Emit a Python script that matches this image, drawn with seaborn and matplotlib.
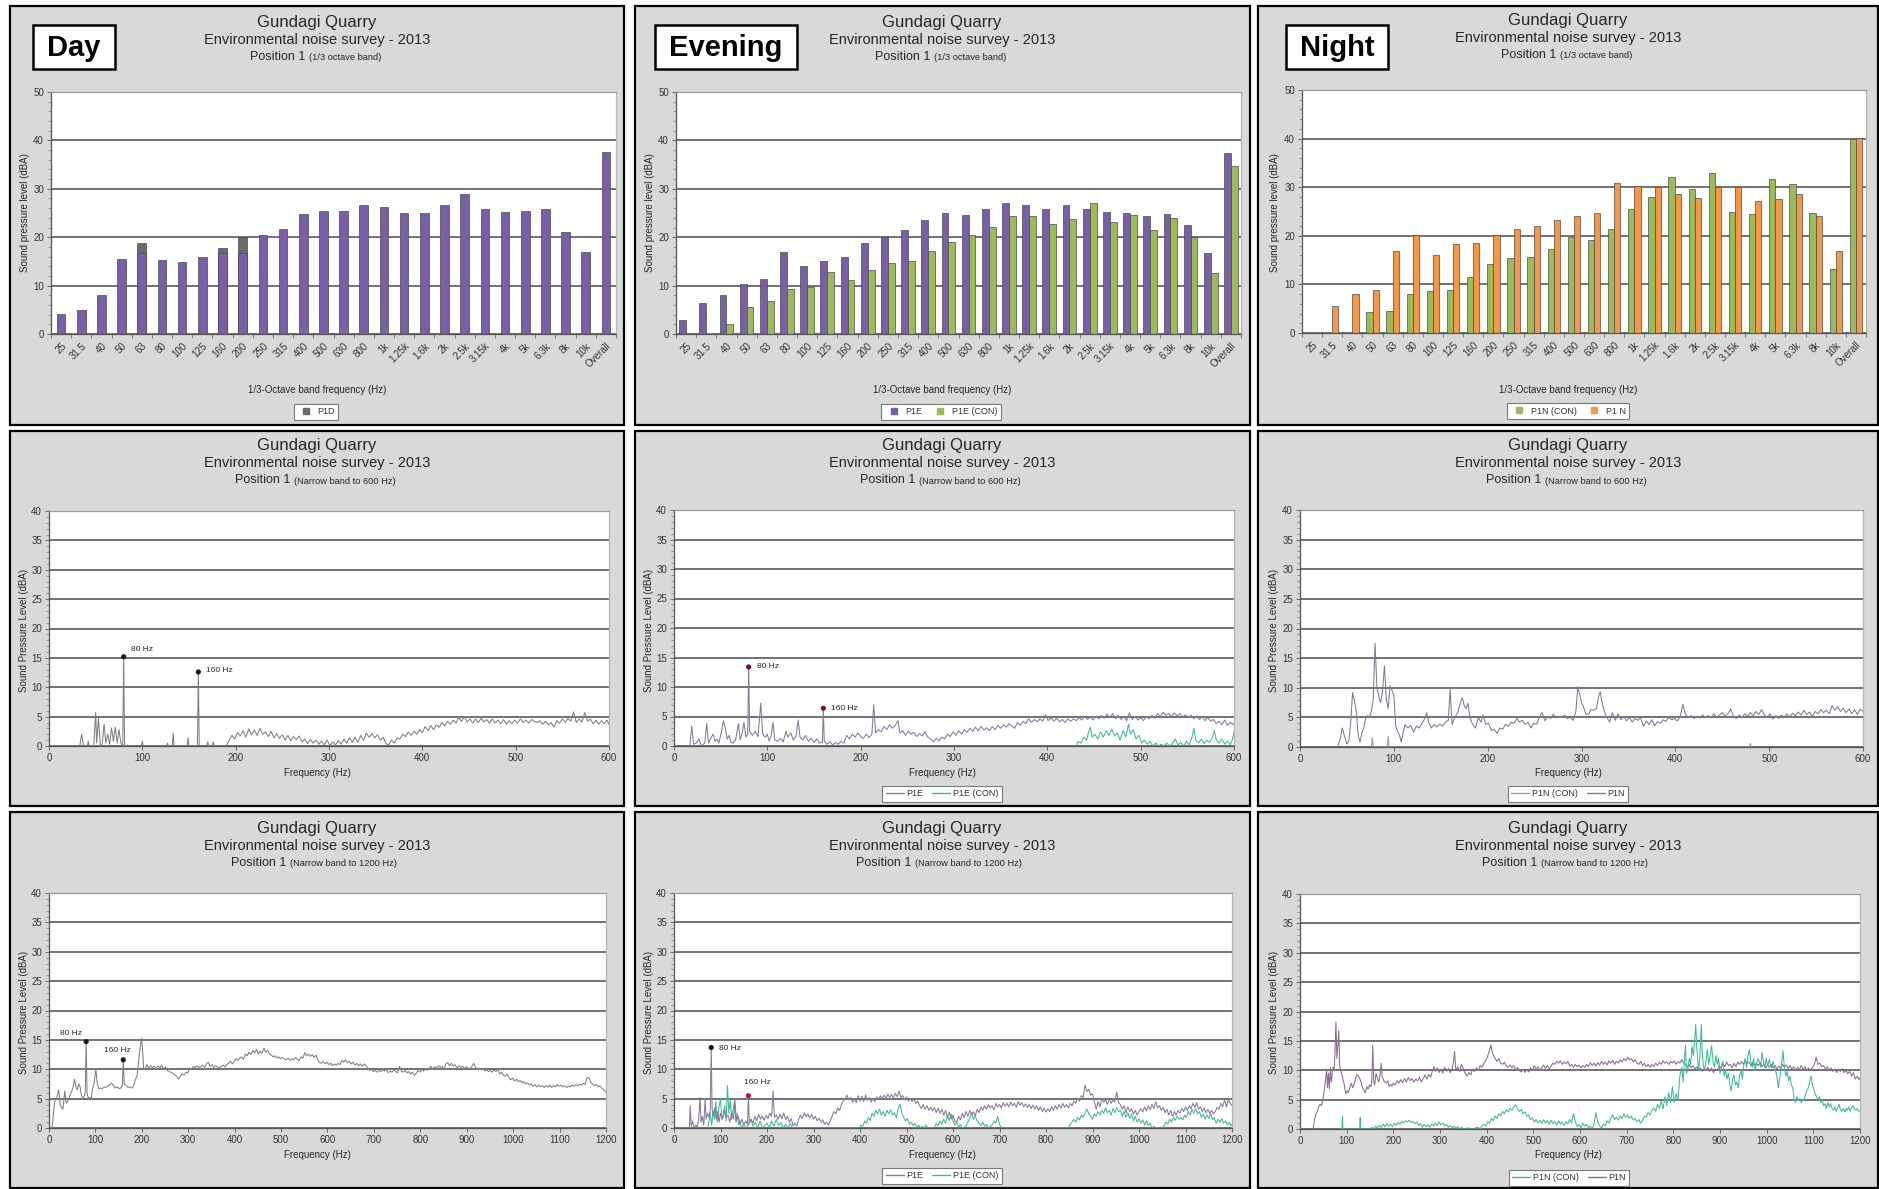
import numpy as np
import pandas as pd
import matplotlib
matplotlib.use("Agg")
import matplotlib.pyplot as plt
import seaborn as sns
from matplotlib.patches import Rectangle
from matplotlib.lines import Line2D
from matplotlib.ticker import MultipleLocator, FixedLocator

sns.set_theme(style="white")
plt.rcParams["font.family"] = ["Liberation Sans", "DejaVu Sans"]

# ---------------------------------------------------------------- data
BANDS = ["25", "31.5", "40", "50", "63", "80", "100", "125", "160", "200", "250",
         "315", "400", "500", "630", "800", "1k", "1.25k", "1.6k", "2k", "2.5k",
         "3.15k", "4k", "5k", "6.3k", "8k", "10k", "Overall"]

NA = np.nan
P1D = [4.2, 5.0, 8.0, 15.5, 16.8, 15.3, 14.8, 16.0, 16.8, 16.8, 20.4, 21.7, 24.7, 25.5,
       25.4, 26.6, 26.2, 25.0, 25.0, 26.6, 28.9, 25.8, 25.2, 25.4, 25.8, 21.0, 17.0, 37.7]
P1D_TOP = [NA, NA, NA, NA, 18.8, NA, NA, NA, 17.7, 20.0, NA, NA, NA, NA,
           NA, NA, NA, NA, NA, NA, NA, NA, NA, NA, NA, NA, NA, NA]

P1E = [2.8, 6.4, 8.0, 10.4, 11.3, 16.9, 14.1, 15.1, 16.0, 18.7, 20.0, 21.4, 23.6, 25.0,
       24.6, 25.8, 27.0, 26.6, 25.8, 26.6, 25.8, 25.3, 24.9, 24.4, 24.7, 22.5, 16.8, 37.4]
P1E_CON = [NA, NA, 2.0, 5.6, 6.8, 9.3, 9.7, 12.8, 11.1, 13.3, 14.7, 15.1, 17.2, 19.1,
           20.4, 22.1, 24.3, 24.3, 22.8, 23.8, 27.1, 23.1, 24.6, 21.5, 23.9, 20.0, 12.7, 34.8]

P1N_CON = [NA, NA, NA, 4.3, 4.6, 8.0, 8.6, 8.8, 11.5, 14.1, 15.5, 15.6, 17.2, 19.7,
           19.2, 21.5, 25.5, 27.9, 32.1, 29.7, 32.9, 24.9, 24.5, 31.6, 30.6, 24.7, 13.2, 39.9]
P1N = [NA, 5.5, 8.0, 8.9, 16.8, 20.1, 16.1, 18.4, 18.6, 20.1, 21.5, 22.1, 23.3, 24.1,
       24.7, 30.8, 30.3, 30.0, 28.7, 27.7, 30.0, 30.1, 27.1, 27.5, 28.7, 24.0, 16.8, 40.1]

# narrow band spectra, (frequency Hz, level dBA)
DAY_NB600 = [(0, 0), (33, 0), (35, 2.0), (37, 0), (41, 0), (42, 0.8), (43, 0), (48, 0), (50, 5.7),
    (51, 0.5), (53, 4.7), (55, 0), (57, 0.3), (59, 3.7), (61, 0.5), (63, 2.0), (65, 0.3), (67, 3.1),
    (69, 0.8), (71, 3.2), (73, 0.5), (75, 2.8), (77, 0.5), (79, 0), (80, 15.2), (81, 0), (99, 0),
    (100, 0.8), (101, 0), (126, 0), (127, 0.5), (128, 0), (132, 0), (133, 2.2), (134, 0), (148, 0),
    (149, 1.4), (150, 0), (159, 0), (160, 12.6), (161, 0), (169, 0), (170, 0.7), (171, 0), (175, 0),
    (176, 0.7), (177, 0), (190, 0), (193, 1.0), (196, 1.8), (199, 1.2), (202, 2.3), (205, 1.7),
    (208, 2.6), (211, 1.5), (214, 2.9), (217, 1.9), (220, 2.7), (223, 1.8), (226, 3.0), (229, 2.0),
    (232, 2.4), (235, 1.6), (238, 2.5), (241, 1.4), (244, 2.1), (247, 1.3), (250, 1.9), (253, 1.0),
    (256, 1.8), (259, 0.9), (262, 1.6), (265, 1.1), (268, 1.7), (271, 0.7), (274, 1.2), (277, 0.4),
    (280, 1.1), (283, 0.5), (286, 1.0), (289, 0.3), (292, 0.8), (295, 0.2), (298, 1.0), (301, 0.1),
    (304, 0.7), (307, 0.2), (310, 0.9), (313, 0.3), (316, 1.2), (319, 0.5), (322, 1.4), (325, 0.6),
    (328, 1.5), (331, 0.6), (334, 1.8), (337, 1.0), (340, 2.2), (343, 1.5), (346, 2.1), (349, 1.4),
    (352, 1.9), (355, 1.0), (358, 1.5), (361, 0.4), (364, 0.2), (367, 1.0), (370, 0.5), (373, 1.4),
    (376, 1.2), (379, 2.0), (382, 1.6), (385, 2.4), (388, 1.8), (391, 2.5), (394, 2.0), (397, 2.8),
    (400, 2.3), (403, 3.3), (406, 2.6), (409, 3.5), (412, 2.8), (415, 3.6), (418, 3.2), (421, 4.0),
    (424, 3.4), (427, 4.2), (430, 3.7), (433, 4.4), (436, 3.9), (439, 4.8), (442, 4.2), (445, 5.0),
    (448, 4.1), (451, 4.6), (454, 3.9), (457, 4.6), (460, 4.0), (463, 4.7), (466, 4.1), (469, 4.5),
    (472, 3.9), (475, 4.6), (478, 3.9), (481, 4.4), (484, 3.8), (487, 4.5), (490, 3.7), (493, 4.3),
    (496, 3.8), (499, 4.4), (502, 3.9), (505, 4.6), (508, 4.0), (511, 4.4), (514, 3.9), (517, 4.5),
    (520, 4.2), (523, 4.0), (526, 4.3), (529, 3.7), (532, 4.2), (535, 3.6), (538, 4.0), (541, 3.2),
    (544, 4.3), (547, 3.9), (550, 4.6), (553, 4.0), (556, 4.7), (559, 4.2), (562, 5.8), (565, 4.0),
    (568, 4.6), (571, 4.1), (574, 5.7), (577, 4.2), (580, 4.6), (583, 3.8), (586, 4.4), (589, 3.7),
    (592, 4.3), (595, 3.8), (598, 4.4), (600, 3.6)]

EVE_NB600 = [(14, 0), (17, 0), (19, 3.4), (21, 0.3), (24, 0.5), (27, 1.2), (29, 0), (33, 0.5),
    (35, 3.8), (37, 0.5), (40, 1.5), (42, 2.0), (44, 0.8), (46, 1.2), (48, 0.5), (51, 2.5), (53, 4.3),
    (55, 3.0), (57, 1.2), (59, 1.8), (61, 0.6), (63, 0.5), (66, 1.0), (69, 3.8), (71, 1.0), (73, 2.2),
    (75, 4.0), (77, 1.5), (79, 2.0), (80, 13.4), (81, 2.5), (84, 1.8), (87, 2.5), (90, 1.6), (93, 7.3),
    (95, 2.0), (98, 1.5), (100, 2.0), (102, 0.8), (104, 1.7), (106, 4.0), (108, 1.0), (111, 0.8),
    (114, 1.3), (117, 0.7), (120, 2.5), (122, 1.5), (125, 2.2), (128, 1.0), (131, 1.8), (133, 4.4),
    (135, 1.5), (138, 1.0), (141, 1.8), (144, 0.8), (147, 1.3), (150, 0.6), (153, 1.2), (156, 0.5),
    (159, 0.6), (160, 6.4), (161, 0.8), (164, 0.3), (167, 0.7), (170, 0.2), (173, 0.6), (176, 0.3),
    (179, 0.8), (182, 0.5), (185, 1.8), (188, 1.2), (191, 2.0), (194, 1.5), (197, 2.2), (200, 1.6),
    (203, 1.3), (206, 2.0), (209, 1.4), (212, 2.0), (214, 7.0), (216, 2.2), (219, 2.8), (222, 2.4),
    (225, 3.3), (228, 2.8), (231, 3.6), (234, 3.0), (237, 3.5), (240, 4.3), (242, 2.2), (245, 2.6),
    (248, 1.8), (251, 2.5), (254, 2.0), (257, 2.3), (260, 1.6), (263, 2.1), (266, 1.7), (269, 2.4),
    (272, 1.5), (275, 1.2), (278, 0.7), (281, 1.3), (284, 0.9), (287, 1.5), (290, 1.2), (293, 2.0),
    (296, 1.6), (299, 2.4), (302, 1.8), (305, 2.6), (308, 2.0), (311, 2.8), (314, 2.3), (317, 3.0),
    (320, 2.5), (323, 3.2), (326, 2.6), (329, 3.3), (332, 2.7), (335, 3.1), (338, 2.6), (341, 3.3),
    (344, 2.8), (347, 3.5), (350, 3.0), (353, 3.6), (356, 3.2), (359, 3.8), (362, 3.4), (365, 3.0),
    (368, 4.0), (371, 3.5), (374, 4.2), (377, 3.8), (380, 4.6), (383, 4.0), (386, 4.5), (389, 4.1),
    (392, 4.6), (395, 4.2), (398, 5.3), (401, 4.3), (404, 4.8), (407, 4.2), (410, 4.7), (413, 4.1),
    (416, 4.5), (419, 4.0), (422, 4.6), (425, 4.2), (428, 4.6), (431, 4.3), (434, 4.8), (437, 4.4),
    (440, 5.0), (443, 4.5), (446, 4.9), (449, 4.4), (452, 5.0), (455, 4.6), (458, 5.2), (461, 4.7),
    (464, 5.4), (467, 4.8), (470, 5.5), (473, 4.6), (476, 5.2), (479, 4.5), (482, 5.0), (485, 4.3),
    (488, 5.6), (491, 4.5), (494, 5.0), (497, 4.4), (500, 4.8), (503, 4.3), (506, 5.0), (509, 4.6),
    (512, 5.2), (515, 4.7), (518, 5.5), (521, 5.0), (524, 5.7), (527, 5.2), (530, 5.5), (533, 5.0),
    (536, 5.6), (539, 5.1), (542, 5.5), (545, 4.9), (548, 5.3), (551, 4.8), (554, 5.2), (557, 4.6),
    (560, 5.1), (563, 4.5), (566, 5.0), (569, 4.3), (572, 4.8), (575, 4.2), (578, 4.5), (581, 3.8),
    (584, 4.2), (587, 3.6), (590, 4.4), (593, 3.5), (596, 4.0), (599, 3.6), (600, 3.9)]

EVE_CON_NB600 = [(431, 0), (433, 0.8), (436, 0.5), (439, 1.5), (442, 1.0), (444, 2.2), (446, 3.2),
    (448, 1.5), (451, 2.0), (454, 1.2), (457, 2.4), (460, 1.5), (463, 2.6), (466, 1.8), (469, 2.9),
    (472, 1.7), (475, 2.2), (478, 1.0), (481, 2.6), (484, 1.5), (487, 3.7), (489, 2.0), (492, 2.8),
    (495, 1.2), (498, 1.8), (501, 0.5), (504, 1.0), (507, 0.3), (510, 0.8), (513, 0.0), (516, 0.5),
    (519, 0.0), (522, 0.3), (525, 0.0), (528, 0.5), (531, 0.0), (534, 0.4), (537, 1.2), (540, 0.2),
    (543, 0.6), (546, 0.0), (549, 0.8), (552, 0.2), (555, 1.5), (557, 3.0), (559, 1.0), (562, 0.5),
    (565, 1.2), (568, 0.4), (571, 1.0), (574, 0.6), (577, 1.5), (579, 2.6), (581, 1.0), (584, 0.5),
    (587, 1.2), (590, 0.3), (593, 0.8), (596, 0.2), (598, 1.0), (600, 2.4)]

NIGHT_NB600 = [(40, 0), (43, 1.5), (45, 3.2), (48, 1.5), (50, 0.5), (52, 1.0), (54, 4.0), (56, 9.2),
    (58, 7.8), (60, 6.0), (62, 2.0), (64, 0.8), (66, 2.5), (68, 3.2), (70, 5.0), (72, 5.3), (74, 5.0),
    (76, 6.0), (78, 8.0), (80, 17.5), (82, 10.0), (84, 8.5), (86, 7.5), (88, 9.5), (90, 13.7),
    (92, 8.0), (94, 6.5), (96, 10.3), (98, 9.6), (100, 8.8), (102, 3.5), (104, 2.6), (106, 2.0),
    (108, 0.8), (110, 2.5), (112, 3.8), (115, 3.2), (118, 3.6), (121, 2.5), (124, 3.5), (127, 3.2),
    (130, 4.0), (133, 4.8), (135, 5.8), (137, 4.2), (140, 3.2), (143, 3.8), (146, 3.4), (149, 3.9),
    (152, 3.5), (155, 4.2), (158, 4.5), (160, 9.8), (162, 3.8), (165, 5.0), (168, 5.8), (171, 7.5),
    (173, 8.3), (175, 7.0), (177, 6.5), (179, 7.4), (181, 5.0), (184, 3.8), (187, 3.2), (190, 5.0),
    (193, 4.2), (195, 5.4), (198, 3.8), (201, 4.0), (204, 2.8), (207, 3.0), (210, 2.3), (213, 3.2),
    (216, 3.0), (219, 3.8), (222, 3.5), (225, 4.2), (228, 4.0), (231, 4.8), (234, 4.2), (237, 4.5),
    (240, 3.8), (243, 4.2), (246, 3.2), (249, 4.0), (252, 3.8), (255, 5.0), (258, 5.8), (261, 4.4),
    (264, 5.2), (267, 4.8), (270, 5.5), (273, 4.9), (276, 5.2), (279, 5.0), (282, 5.4), (285, 4.8),
    (288, 5.0), (291, 4.5), (294, 6.0), (296, 10.2), (298, 9.0), (300, 7.5), (302, 6.8), (305, 5.5),
    (308, 5.6), (310, 6.3), (313, 6.2), (316, 6.5), (318, 8.4), (320, 9.3), (322, 7.5), (324, 6.2),
    (327, 5.0), (330, 4.2), (333, 5.8), (336, 4.5), (339, 5.6), (342, 4.6), (345, 5.2), (348, 4.4),
    (351, 5.0), (354, 4.2), (357, 4.8), (360, 4.5), (363, 5.0), (366, 3.5), (369, 4.4), (372, 3.8),
    (375, 4.6), (378, 3.6), (381, 4.3), (384, 4.0), (387, 4.6), (390, 4.3), (393, 5.0), (396, 4.6),
    (399, 4.8), (402, 4.4), (405, 5.0), (408, 7.2), (411, 5.4), (414, 5.0), (417, 5.3), (420, 4.8),
    (423, 5.2), (426, 4.9), (429, 5.4), (432, 5.0), (435, 5.3), (438, 4.9), (441, 5.6), (444, 5.0),
    (447, 5.4), (450, 5.8), (453, 5.2), (456, 5.6), (459, 6.4), (462, 5.2), (465, 4.8), (468, 5.4),
    (471, 5.0), (474, 5.6), (477, 5.2), (480, 5.8), (483, 5.3), (486, 6.0), (489, 5.5), (492, 6.3),
    (495, 5.4), (498, 5.0), (501, 5.6), (504, 4.7), (507, 5.3), (510, 4.8), (513, 5.4), (516, 5.0),
    (519, 5.6), (522, 5.1), (525, 5.7), (528, 5.3), (531, 5.9), (534, 5.4), (537, 6.2), (540, 5.5),
    (543, 5.9), (546, 5.2), (549, 6.0), (552, 5.6), (555, 6.3), (558, 5.8), (561, 6.2), (564, 5.6),
    (567, 7.0), (570, 6.2), (573, 6.8), (576, 6.0), (579, 6.5), (582, 5.8), (585, 6.4), (588, 5.6),
    (591, 6.3), (594, 5.5), (597, 6.4), (600, 6.0)]

NIGHT_CON_NB600 = [(76, 0), (77, 1.6), (78, 0), (93, 0), (94, 1.8), (95, 0),
                   (479, 0), (480, 0.6), (481, 0)]

DAY_NB1200 = [(7, 0), (10, 3.0), (13, 4.8), (17, 5.2), (21, 6.5), (24, 4.0), (27, 3.5), (30, 3.2),
    (34, 6.3), (37, 4.2), (40, 4.5), (43, 5.0), (46, 5.8), (49, 6.2), (52, 7.0), (55, 8.3), (58, 7.0),
    (61, 6.5), (64, 7.5), (67, 7.0), (70, 5.5), (73, 5.0), (76, 5.4), (78, 6.0), (80, 14.7), (82, 6.0),
    (85, 5.0), (88, 5.2), (91, 5.0), (94, 6.8), (97, 7.5), (101, 10.0), (104, 7.5), (107, 6.7),
    (111, 6.8), (115, 6.7), (119, 7.0), (123, 6.9), (127, 7.2), (131, 7.4), (135, 7.6), (139, 7.2),
    (143, 6.8), (147, 7.0), (151, 6.7), (155, 6.8), (158, 7.2), (160, 11.6), (162, 7.5), (166, 7.3),
    (170, 6.9), (174, 7.0), (178, 6.8), (182, 7.1), (186, 8.2), (190, 9.0), (193, 11.5), (196, 13.4),
    (199, 15.3), (201, 14.0), (204, 10.2), (207, 10.0), (211, 10.8), (215, 10.2), (219, 10.6),
    (223, 10.3), (227, 10.5), (231, 10.1), (235, 10.6), (239, 10.2), (243, 10.7), (247, 10.0),
    (251, 10.4), (255, 9.8), (259, 9.6), (263, 9.5), (267, 9.3), (271, 9.0), (275, 8.8), (279, 8.3),
    (283, 8.8), (287, 9.2), (291, 9.0), (295, 9.5), (299, 9.4), (303, 10.2), (307, 10.0), (311, 10.5),
    (315, 10.3), (319, 10.6), (323, 10.2), (327, 10.4), (331, 10.7), (335, 10.3), (339, 10.9),
    (343, 11.2), (347, 10.5), (351, 10.8), (355, 10.3), (359, 10.6), (363, 10.4), (367, 10.2),
    (371, 10.5), (375, 10.7), (379, 10.4), (383, 10.8), (387, 11.0), (391, 11.4), (395, 10.9),
    (399, 11.3), (403, 11.8), (407, 11.5), (411, 11.9), (415, 12.1), (419, 11.7), (423, 12.6),
    (427, 12.3), (431, 12.9), (435, 12.5), (439, 13.2), (443, 12.8), (447, 13.4), (451, 12.6),
    (455, 13.1), (459, 12.7), (463, 13.6), (467, 12.9), (471, 13.2), (475, 12.6), (479, 12.4),
    (483, 12.1), (487, 12.3), (491, 11.9), (495, 12.1), (499, 11.8), (503, 12.0), (507, 11.7),
    (511, 11.6), (515, 11.9), (519, 11.5), (523, 11.8), (527, 11.6), (531, 12.0), (535, 11.7),
    (539, 11.5), (543, 12.1), (547, 11.9), (551, 12.8), (555, 12.3), (559, 12.6), (563, 12.2),
    (567, 12.5), (571, 12.0), (575, 12.4), (579, 11.6), (583, 11.2), (587, 11.0), (591, 11.3),
    (595, 10.9), (599, 11.2), (603, 10.8), (607, 11.0), (611, 10.6), (615, 10.9), (619, 10.7),
    (623, 11.0), (627, 10.8), (631, 11.5), (635, 11.2), (639, 11.6), (643, 11.1), (647, 11.4),
    (651, 10.9), (655, 11.2), (659, 10.7), (663, 11.0), (667, 10.6), (671, 10.9), (675, 10.5),
    (679, 10.9), (683, 10.6), (687, 10.2), (691, 9.8), (695, 10.0), (699, 9.6), (703, 9.8), (707, 9.5),
    (711, 9.9), (715, 9.6), (719, 10.0), (723, 9.7), (727, 9.9), (731, 9.4), (735, 9.7), (739, 9.5),
    (743, 9.9), (747, 9.6), (751, 9.4), (755, 10.5), (759, 9.7), (763, 9.5), (767, 9.8), (771, 9.4),
    (775, 9.6), (779, 9.2), (783, 9.5), (787, 9.0), (791, 9.3), (795, 9.8), (799, 9.5), (803, 10.0),
    (807, 9.7), (811, 10.1), (815, 9.8), (819, 10.2), (823, 10.5), (827, 10.0), (831, 10.4),
    (835, 10.2), (839, 10.6), (843, 10.3), (847, 10.5), (851, 10.0), (855, 10.9), (859, 11.1),
    (863, 10.6), (867, 11.0), (871, 10.5), (875, 10.8), (879, 10.2), (883, 10.6), (887, 10.3),
    (891, 10.5), (895, 10.1), (899, 10.4), (903, 10.2), (907, 10.0), (911, 10.5), (915, 11.0),
    (919, 10.3), (923, 10.0), (927, 10.2), (931, 9.9), (935, 10.1), (939, 9.7), (943, 9.9), (947, 9.6),
    (951, 9.8), (955, 9.5), (959, 9.9), (963, 9.6), (967, 10.0), (971, 9.2), (975, 9.5), (979, 9.0),
    (983, 8.8), (987, 9.2), (991, 8.6), (995, 8.2), (999, 8.5), (1003, 8.0), (1007, 8.3), (1011, 7.9),
    (1015, 8.1), (1019, 7.7), (1023, 7.9), (1027, 7.5), (1031, 7.7), (1035, 7.3), (1039, 7.5),
    (1043, 7.1), (1047, 7.4), (1051, 7.0), (1055, 7.3), (1059, 7.0), (1063, 7.2), (1067, 6.9),
    (1071, 7.2), (1075, 7.0), (1079, 7.3), (1083, 6.9), (1087, 7.2), (1091, 7.0), (1095, 7.4),
    (1099, 7.1), (1103, 7.3), (1107, 7.0), (1111, 7.2), (1115, 6.9), (1119, 7.1), (1123, 7.0),
    (1127, 7.3), (1131, 7.1), (1135, 7.4), (1139, 7.2), (1143, 7.5), (1147, 7.3), (1151, 7.6),
    (1155, 7.4), (1159, 8.5), (1163, 8.6), (1167, 7.8), (1171, 7.5), (1175, 7.2), (1179, 7.4),
    (1183, 7.0), (1187, 7.2), (1191, 6.8), (1195, 6.5), (1199, 6.2), (1200, 6.0)]

EVE_NB1200 = [(30, 0), (33, 0), (35, 3.8), (37, 0.3), (40, 1.2), (43, 0), (47, 0.5), (50, 0),
    (53, 1.5), (56, 5.2), (58, 1.0), (61, 2.0), (64, 0.5), (67, 5.0), (69, 1.5), (72, 2.5), (75, 1.8),
    (78, 3.0), (80, 13.7), (82, 3.2), (85, 2.0), (88, 3.5), (91, 1.5), (94, 2.8), (97, 1.0), (100, 2.5),
    (104, 1.5), (108, 3.0), (112, 1.8), (116, 2.2), (120, 1.0), (124, 2.6), (128, 1.5), (131, 4.8),
    (134, 1.2), (138, 2.0), (142, 0.6), (146, 1.5), (150, 0.5), (154, 1.2), (158, 0.6), (160, 5.5),
    (162, 0.8), (166, 1.5), (170, 0.8), (174, 2.0), (178, 1.2), (182, 2.3), (186, 1.5), (190, 2.0),
    (194, 1.3), (198, 2.2), (202, 1.6), (206, 2.5), (210, 2.0), (213, 6.3), (216, 1.8), (220, 2.2),
    (224, 1.5), (228, 2.4), (232, 1.6), (236, 2.6), (240, 1.4), (244, 2.0), (248, 1.0), (252, 1.6),
    (256, 0.4), (260, 0.8), (264, 0.3), (268, 1.5), (272, 2.2), (276, 1.6), (280, 2.6), (284, 1.9),
    (288, 2.4), (292, 1.7), (296, 2.3), (300, 1.5), (304, 2.0), (308, 1.2), (312, 1.7), (316, 1.0),
    (320, 1.4), (324, 0.6), (328, 1.0), (332, 0.5), (336, 1.2), (340, 2.0), (344, 2.8), (348, 2.4),
    (352, 3.4), (356, 3.0), (360, 4.0), (364, 4.6), (368, 5.0), (372, 5.6), (376, 4.8), (380, 5.2),
    (384, 4.4), (388, 5.0), (392, 4.3), (396, 5.5), (400, 4.6), (404, 5.4), (408, 4.5), (412, 5.6),
    (416, 4.7), (420, 5.2), (424, 4.4), (428, 5.0), (432, 4.5), (436, 5.3), (440, 4.8), (444, 5.5),
    (448, 5.0), (452, 5.6), (456, 5.1), (460, 5.8), (464, 5.2), (468, 5.7), (472, 5.0), (476, 5.9),
    (480, 5.3), (484, 6.3), (488, 5.2), (492, 5.5), (496, 4.8), (500, 5.3), (504, 4.6), (508, 5.0),
    (512, 4.5), (516, 4.9), (520, 4.2), (524, 4.6), (528, 3.8), (532, 3.3), (536, 4.0), (540, 3.2),
    (544, 3.8), (548, 3.0), (552, 3.6), (556, 2.9), (560, 3.5), (564, 2.6), (568, 3.4), (572, 2.5),
    (576, 3.2), (580, 2.2), (584, 3.0), (588, 1.8), (592, 2.7), (596, 1.5), (600, 2.2), (604, 1.2),
    (608, 1.0), (612, 2.0), (616, 1.4), (620, 2.5), (624, 1.8), (628, 2.8), (632, 2.0), (636, 3.0),
    (640, 2.3), (644, 2.8), (648, 2.1), (652, 3.2), (656, 2.6), (660, 3.5), (664, 3.0), (668, 3.8),
    (672, 3.2), (676, 4.0), (680, 3.4), (684, 3.8), (688, 3.1), (692, 4.2), (696, 3.6), (700, 4.0),
    (704, 3.4), (708, 4.3), (712, 3.7), (716, 4.2), (720, 3.6), (724, 4.4), (728, 3.8), (732, 4.2),
    (736, 3.5), (740, 4.5), (744, 3.9), (748, 4.3), (752, 3.6), (756, 4.1), (760, 3.5), (764, 4.0),
    (768, 3.3), (772, 3.9), (776, 3.2), (780, 3.8), (784, 3.0), (788, 3.6), (792, 2.8), (796, 3.4),
    (800, 2.7), (804, 3.3), (808, 2.8), (812, 3.6), (816, 3.0), (820, 3.8), (824, 3.2), (828, 4.0),
    (832, 3.4), (836, 4.2), (840, 3.5), (844, 4.0), (848, 3.4), (852, 4.2), (856, 3.8), (860, 4.6),
    (864, 4.2), (868, 5.0), (872, 4.6), (876, 5.5), (880, 5.2), (884, 7.3), (888, 6.2), (892, 6.6),
    (896, 5.6), (900, 5.8), (904, 4.5), (908, 3.2), (912, 4.5), (916, 3.6), (920, 5.0), (924, 4.4),
    (928, 4.8), (932, 4.0), (936, 5.0), (940, 4.2), (944, 4.8), (948, 4.4), (952, 6.1), (956, 4.3),
    (960, 4.0), (964, 3.2), (968, 3.8), (972, 2.6), (976, 3.6), (980, 2.8), (984, 3.3), (988, 2.4),
    (992, 3.0), (996, 2.2), (1000, 2.8), (1004, 3.3), (1008, 2.7), (1012, 3.6), (1016, 2.9),
    (1020, 3.8), (1024, 3.1), (1028, 4.0), (1032, 3.3), (1036, 4.5), (1040, 3.4), (1044, 3.8),
    (1048, 3.0), (1052, 3.5), (1056, 2.6), (1060, 3.2), (1064, 2.2), (1068, 3.0), (1072, 2.0),
    (1076, 2.8), (1080, 2.2), (1084, 3.0), (1088, 2.5), (1092, 3.3), (1096, 2.8), (1100, 3.6),
    (1104, 3.0), (1108, 3.8), (1112, 3.3), (1116, 4.2), (1120, 3.5), (1124, 4.3), (1128, 3.2),
    (1132, 3.6), (1136, 2.8), (1140, 3.4), (1144, 2.6), (1148, 3.2), (1152, 2.5), (1156, 3.0),
    (1160, 2.4), (1164, 2.8), (1168, 3.5), (1172, 3.2), (1176, 4.2), (1180, 3.6), (1184, 4.8),
    (1188, 3.6), (1192, 4.9), (1196, 4.2), (1200, 3.8)]

EVE_CON_NB1200 = [(72, 0), (75, 1.0), (78, 2.5), (81, 0.5), (84, 3.0), (87, 1.5), (90, 4.5),
    (93, 1.0), (96, 3.2), (100, 5.0), (103, 1.5), (106, 2.2), (109, 3.8), (112, 1.2), (115, 7.2),
    (118, 2.5), (121, 4.8), (124, 1.5), (127, 3.0), (130, 4.6), (133, 1.0), (136, 2.5), (139, 0.5),
    (142, 1.2), (145, 0.0), (150, 0.6), (155, 0.0), (160, 0.5), (165, 1.5), (170, 0.3), (175, 1.0),
    (180, 0.0), (185, 1.2), (190, 0.0), (200, 0.8), (205, 0.0), (210, 1.2), (215, 0.3), (220, 1.5),
    (225, 0.4), (230, 0.9), (235, 0.0), (240, 0.6), (245, 0.0), (250, 0.8), (255, 0.0), (398, 0.0),
    (402, 0.5), (406, 0.3), (410, 1.2), (414, 0.8), (418, 1.8), (422, 1.3), (426, 2.5), (430, 2.0),
    (434, 3.0), (438, 2.4), (442, 3.2), (446, 2.2), (450, 2.8), (454, 2.0), (458, 3.0), (462, 2.4),
    (466, 3.1), (470, 2.2), (474, 2.6), (478, 1.8), (482, 3.2), (486, 4.0), (490, 2.5), (494, 1.8),
    (498, 1.2), (502, 1.6), (506, 0.6), (510, 1.0), (514, 0.4), (518, 0.8), (522, 0.0), (526, 0.5),
    (530, 0.0), (534, 0.3), (538, 0.0), (542, 0.5), (546, 0.0), (560, 0.0), (564, 0.8), (568, 0.4),
    (572, 1.2), (576, 0.6), (580, 1.5), (584, 0.8), (588, 2.0), (592, 1.3), (596, 2.4), (600, 1.2),
    (604, 0.5), (608, 1.0), (612, 0.2), (616, 0.6), (620, 0.0), (628, 0.3), (632, 1.0), (636, 1.6),
    (640, 2.6), (644, 1.5), (648, 2.0), (652, 1.2), (656, 0.8), (660, 0.4), (664, 1.0), (668, 0.3),
    (672, 0.6), (676, 0.0), (684, 0.5), (688, 1.2), (692, 0.8), (696, 2.0), (700, 0.6), (704, 0.0),
    (848, 0.0), (852, 0.6), (856, 1.0), (860, 1.5), (864, 1.0), (868, 1.8), (872, 1.4), (876, 2.2),
    (880, 1.8), (884, 2.6), (888, 3.2), (892, 2.4), (896, 2.0), (900, 1.5), (904, 2.4), (908, 2.0),
    (912, 2.8), (916, 2.2), (920, 3.0), (924, 2.5), (928, 3.4), (932, 2.6), (936, 3.0), (940, 2.2),
    (944, 3.3), (948, 2.6), (952, 3.5), (956, 2.8), (960, 3.0), (964, 2.0), (968, 2.8), (972, 1.8),
    (976, 2.6), (980, 1.6), (984, 2.4), (988, 1.2), (992, 2.0), (996, 1.0), (1000, 1.6), (1004, 0.8),
    (1008, 1.4), (1012, 0.5), (1016, 1.2), (1020, 0.4), (1024, 0.8), (1028, 0.0), (1032, 0.3),
    (1036, 0.0), (1050, 0.0), (1054, 0.4), (1058, 1.0), (1062, 0.7), (1066, 1.5), (1070, 1.0),
    (1074, 1.8), (1078, 1.3), (1082, 2.0), (1086, 1.5), (1090, 1.8), (1094, 1.4), (1098, 2.2),
    (1102, 1.8), (1106, 2.8), (1110, 2.2), (1114, 3.2), (1118, 2.5), (1122, 3.3), (1126, 2.4),
    (1130, 2.8), (1134, 1.8), (1138, 2.4), (1142, 1.5), (1146, 2.2), (1150, 1.6), (1154, 2.5),
    (1158, 1.4), (1162, 1.8), (1166, 0.8), (1170, 1.5), (1174, 1.0), (1178, 1.6), (1182, 0.8),
    (1186, 1.2), (1190, 0.5), (1194, 1.0), (1198, 0.4), (1200, 0.6)]

NIGHT_NB1200 = [(28, 0), (31, 1.5), (34, 2.5), (37, 3.0), (40, 3.8), (43, 4.2), (46, 4.0), (49, 5.0),
    (52, 6.5), (55, 8.5), (57, 10.2), (59, 7.0), (61, 9.5), (63, 6.8), (65, 10.5), (67, 8.0), (69, 9.3),
    (71, 10.5), (73, 10.0), (75, 13.0), (77, 18.2), (79, 12.0), (81, 14.0), (83, 16.8), (85, 11.0),
    (87, 10.0), (89, 9.5), (92, 8.5), (95, 7.5), (98, 6.0), (101, 6.5), (104, 6.2), (107, 7.2),
    (110, 7.8), (113, 7.0), (116, 7.6), (119, 8.6), (122, 9.3), (125, 9.0), (128, 8.6), (131, 8.0),
    (134, 7.0), (137, 6.6), (140, 6.2), (143, 7.2), (146, 6.8), (149, 7.5), (152, 7.2), (154, 8.5),
    (156, 14.3), (158, 8.0), (160, 7.5), (163, 9.5), (166, 8.6), (169, 8.0), (172, 9.5), (174, 11.2),
    (176, 9.0), (179, 8.3), (182, 8.0), (185, 7.8), (188, 8.2), (191, 7.2), (194, 7.6), (197, 7.3),
    (200, 7.8), (204, 7.5), (208, 8.2), (212, 7.8), (216, 8.4), (220, 7.9), (224, 8.6), (228, 8.0),
    (232, 8.8), (236, 8.2), (240, 8.6), (244, 8.0), (248, 8.5), (252, 8.2), (256, 8.8), (260, 8.0),
    (264, 8.6), (268, 9.2), (272, 8.5), (276, 9.3), (280, 8.8), (284, 10.0), (287, 10.6), (290, 9.8),
    (294, 10.4), (298, 9.6), (302, 10.2), (306, 9.5), (310, 10.5), (314, 9.8), (318, 10.3), (322, 9.6),
    (326, 10.2), (329, 11.5), (331, 13.2), (334, 10.0), (338, 10.6), (342, 9.8), (346, 11.0),
    (350, 10.3), (354, 9.5), (358, 9.0), (362, 9.6), (366, 9.2), (370, 10.2), (374, 9.8), (378, 10.4),
    (382, 10.0), (386, 10.8), (390, 10.5), (394, 11.2), (398, 11.6), (402, 12.4), (406, 13.4),
    (409, 14.3), (412, 13.0), (415, 12.5), (418, 12.0), (422, 11.5), (426, 12.0), (430, 11.2),
    (434, 11.0), (438, 11.4), (442, 10.8), (446, 10.5), (450, 10.9), (454, 10.4), (458, 10.8),
    (462, 10.0), (466, 10.5), (470, 10.0), (474, 9.7), (478, 10.2), (482, 9.6), (486, 10.1),
    (490, 9.7), (494, 10.4), (498, 10.0), (502, 10.8), (506, 10.2), (510, 10.6), (514, 10.0),
    (518, 10.4), (522, 10.9), (526, 10.3), (530, 10.8), (534, 10.2), (538, 10.7), (542, 11.2),
    (546, 11.0), (550, 11.5), (554, 11.2), (558, 11.6), (562, 11.0), (566, 11.4), (570, 11.1),
    (574, 11.5), (578, 10.7), (582, 11.0), (586, 10.5), (590, 11.0), (594, 10.6), (598, 10.9),
    (602, 10.4), (606, 10.8), (610, 10.5), (614, 11.0), (618, 10.6), (622, 11.3), (626, 10.8),
    (630, 11.2), (634, 10.7), (638, 11.3), (642, 10.9), (646, 11.5), (650, 11.0), (654, 11.4),
    (658, 10.9), (662, 11.6), (666, 11.2), (670, 11.7), (674, 11.0), (678, 11.5), (682, 11.2),
    (686, 11.8), (690, 11.4), (694, 12.0), (698, 11.6), (702, 12.2), (706, 11.8), (710, 12.0),
    (714, 11.4), (718, 11.8), (722, 11.2), (726, 11.0), (730, 11.5), (734, 10.8), (738, 11.2),
    (742, 10.6), (746, 11.0), (750, 10.5), (754, 11.0), (758, 10.6), (762, 11.2), (766, 10.8),
    (770, 11.4), (774, 11.0), (778, 11.6), (782, 11.2), (786, 11.4), (790, 11.0), (794, 11.5),
    (798, 11.2), (802, 11.6), (806, 11.0), (810, 11.5), (814, 11.2), (818, 11.8), (822, 11.2),
    (826, 11.0), (830, 10.5), (834, 11.0), (838, 10.4), (842, 10.8), (846, 10.2), (850, 10.6),
    (854, 10.0), (858, 10.4), (862, 9.8), (866, 10.3), (870, 10.0), (874, 10.5), (878, 9.8),
    (882, 10.4), (886, 9.6), (890, 10.2), (894, 10.0), (898, 10.8), (902, 10.4), (906, 11.2),
    (910, 10.6), (914, 11.4), (918, 10.8), (922, 11.0), (926, 10.4), (930, 11.2), (934, 10.6),
    (938, 11.4), (942, 11.0), (946, 11.5), (950, 11.0), (954, 11.6), (958, 11.2), (962, 11.4),
    (966, 10.8), (970, 11.3), (974, 10.7), (978, 11.2), (982, 10.8), (986, 11.3), (990, 10.6),
    (994, 11.0), (998, 10.4), (1002, 10.9), (1006, 10.5), (1010, 11.0), (1014, 10.4), (1018, 10.8),
    (1022, 10.2), (1026, 10.7), (1030, 10.3), (1034, 11.0), (1038, 10.6), (1042, 10.9), (1046, 10.3),
    (1050, 10.8), (1054, 10.2), (1058, 10.6), (1062, 10.0), (1066, 10.5), (1070, 10.1), (1074, 10.8),
    (1078, 10.2), (1082, 10.6), (1086, 10.0), (1090, 10.4), (1094, 10.0), (1098, 10.5), (1102, 11.0),
    (1106, 12.2), (1110, 11.0), (1114, 11.2), (1118, 10.6), (1122, 10.8), (1126, 10.2), (1130, 10.6),
    (1134, 10.0), (1138, 10.4), (1142, 9.8), (1146, 10.2), (1150, 9.6), (1154, 10.2), (1158, 9.8),
    (1162, 10.3), (1166, 9.6), (1170, 10.0), (1174, 9.4), (1178, 9.8), (1182, 9.0), (1186, 9.6),
    (1190, 8.5), (1194, 9.0), (1198, 8.4), (1200, 8.8)]

NIGHT_CON_NB1200 = [(90, 0), (91, 2.2), (92, 0), (128, 0), (129, 2.0), (130, 0), (150, 0),
    (154, 0.3), (158, 0.0), (162, 0.5), (166, 0.2), (170, 0.6), (174, 0.3), (178, 0.8), (182, 0.4),
    (186, 0.9), (190, 0.5), (194, 0.8), (198, 0.4), (202, 1.0), (206, 0.6), (210, 1.1), (214, 0.8),
    (218, 1.3), (222, 1.0), (226, 1.4), (230, 1.2), (234, 1.5), (238, 1.1), (242, 1.3), (246, 0.9),
    (250, 1.2), (254, 0.6), (258, 0.9), (262, 0.3), (266, 0.8), (270, 0.4), (274, 0.7), (278, 0.3),
    (282, 0.8), (286, 0.5), (290, 1.0), (294, 0.6), (298, 1.2), (302, 0.7), (306, 1.0), (310, 0.5),
    (314, 0.8), (318, 0.3), (322, 0.6), (326, 0.2), (330, 0.5), (334, 0.1), (338, 0.4), (342, 0.0),
    (346, 0.3), (350, 0.0), (360, 0.2), (370, 0.0), (380, 0.3), (386, 0.1), (390, 0.5), (394, 0.8),
    (398, 0.5), (402, 1.2), (406, 1.0), (410, 1.8), (414, 1.4), (418, 2.2), (422, 1.8), (426, 2.6),
    (430, 2.2), (434, 3.0), (438, 2.6), (442, 3.3), (446, 2.9), (450, 3.5), (454, 3.2), (458, 3.8),
    (462, 4.1), (466, 3.4), (470, 3.0), (474, 3.3), (478, 2.6), (482, 2.9), (486, 2.2), (490, 2.4),
    (494, 1.6), (498, 1.9), (502, 1.2), (506, 1.6), (510, 1.0), (514, 1.5), (518, 0.9), (522, 1.6),
    (526, 1.0), (530, 1.4), (534, 0.8), (538, 1.5), (542, 0.9), (546, 1.3), (550, 0.7), (554, 1.4),
    (558, 0.8), (562, 1.2), (566, 0.6), (570, 1.3), (574, 0.9), (578, 1.6), (582, 1.0), (586, 2.6),
    (590, 1.2), (594, 0.4), (598, 0.8), (602, 0.2), (606, 1.0), (610, 0.5), (614, 0.8), (618, 0.2),
    (622, 0.5), (626, 0.0), (630, 0.8), (634, 2.8), (638, 1.2), (642, 0.5), (646, 0.2), (650, 0.8),
    (654, 0.6), (658, 1.4), (662, 1.0), (666, 1.8), (670, 2.4), (674, 1.6), (678, 2.0), (682, 1.5),
    (686, 2.2), (690, 1.8), (694, 2.6), (698, 2.0), (702, 2.4), (706, 1.8), (710, 2.2), (714, 1.5),
    (718, 1.8), (722, 1.2), (726, 1.6), (730, 1.0), (734, 1.4), (738, 2.2), (742, 2.0), (746, 2.8),
    (750, 2.4), (754, 3.2), (758, 3.6), (762, 3.0), (766, 4.2), (770, 3.5), (774, 4.8), (778, 3.4),
    (782, 5.5), (786, 4.0), (790, 6.2), (794, 4.5), (798, 7.2), (802, 4.5), (806, 6.0), (810, 4.8),
    (814, 9.0), (818, 10.5), (821, 8.0), (824, 12.0), (826, 14.3), (828, 9.5), (831, 10.0),
    (834, 12.0), (837, 11.0), (840, 14.0), (843, 12.5), (846, 15.5), (848, 17.8), (850, 14.0),
    (852, 12.0), (854, 10.0), (857, 12.5), (860, 17.8), (862, 13.0), (864, 11.0), (867, 10.0),
    (870, 11.5), (873, 13.5), (876, 11.0), (879, 12.5), (882, 14.2), (885, 11.5), (888, 10.5),
    (891, 12.5), (894, 11.0), (897, 12.0), (900, 9.5), (903, 10.5), (906, 11.5), (909, 9.0),
    (912, 10.2), (915, 8.5), (918, 9.5), (921, 7.5), (924, 6.5), (927, 8.5), (930, 9.2), (933, 7.5),
    (936, 8.0), (939, 7.0), (942, 9.0), (945, 10.0), (948, 8.5), (951, 11.0), (954, 12.0), (957, 10.5),
    (960, 12.5), (963, 13.5), (966, 11.5), (969, 10.5), (972, 12.0), (975, 10.0), (978, 11.0),
    (981, 12.0), (984, 11.5), (987, 10.5), (990, 13.0), (993, 11.5), (996, 10.5), (999, 12.0),
    (1002, 10.8), (1006, 11.8), (1010, 10.4), (1014, 11.5), (1018, 10.2), (1022, 9.0), (1025, 7.0),
    (1028, 8.8), (1031, 10.5), (1035, 13.3), (1038, 10.5), (1041, 9.0), (1044, 9.8), (1047, 8.2),
    (1050, 9.0), (1053, 7.5), (1056, 7.0), (1059, 5.0), (1062, 4.5), (1065, 5.5), (1068, 4.8),
    (1071, 5.2), (1074, 4.5), (1077, 5.0), (1080, 4.8), (1083, 5.8), (1086, 6.5), (1089, 7.0),
    (1092, 8.0), (1095, 9.0), (1098, 7.5), (1101, 6.8), (1104, 6.0), (1107, 5.5), (1110, 5.0),
    (1113, 5.5), (1116, 4.5), (1119, 5.0), (1122, 4.0), (1125, 4.3), (1128, 3.5), (1131, 4.5),
    (1134, 3.8), (1137, 4.3), (1140, 3.5), (1143, 3.2), (1146, 3.8), (1149, 3.0), (1152, 3.6),
    (1155, 4.2), (1158, 3.4), (1161, 3.0), (1164, 3.5), (1167, 2.9), (1170, 3.5), (1173, 3.2),
    (1176, 3.8), (1179, 3.0), (1182, 3.6), (1185, 4.0), (1188, 3.4), (1191, 3.2), (1194, 3.5),
    (1197, 3.0), (1200, 3.1)]

# tonal peaks marked on the narrow band charts: (frequency, level)
DAY_PEAKS_600 = [(80, 15.2), (160, 12.6)]
EVE_PEAKS_600 = [(80, 13.4), (160, 6.4)]
DAY_PEAKS_1200 = [(80, 14.7), (160, 11.6)]
EVE_PEAKS_1200 = [(80, 13.7), (160, 5.5)]

# ---------------------------------------------------------------- colours
PURPLE = "#7b5ea8"
CAP_GREY = "#6b6b6b"
GREEN = "#9bbb59"
ORANGE = "#f79646"
PANEL_BG = "#d9d9d9"
LINE_GREY = "#7f7f7f"
LINE_P1E = "#86789a"
TEAL = "#3dba94"
LINE_P1N = "#8b6a94"
LINE_P1N_MID = "#807890"
TXT = "#262626"

W, H = 1879, 1189
fig = plt.figure(figsize=(W / 100, H / 100), dpi=100)
fig.patch.set_facecolor("white")


def fx(x):
    return x / W


def fy(y):
    return 1 - y / H


def add_axes_px(l, r, t, b):
    return fig.add_axes([fx(l), fy(b), (r - l) / W, (b - t) / H])


# panel backgrounds
COLS = [(10, 624), (635, 1250), (1258, 1878)]
ROWS = [(6, 425), (431, 806), (812, 1188)]
for (l, r) in COLS:
    for (t, b) in ROWS:
        fig.add_artist(Rectangle((fx(l), fy(b)), (r - l) / W, (b - t) / H,
                                 transform=fig.transFigure, facecolor=PANEL_BG,
                                 edgecolor="black", lw=1.6, zorder=-5))


def titles(cx, y1, sub, off):
    fig.text(fx(cx), fy(y1), "Gundagi Quarry", ha="center", va="center",
             fontsize=12, color=TXT)
    fig.text(fx(cx), fy(y1 + 17), "Environmental noise survey - 2013", ha="center",
             va="center", fontsize=10.5, color=TXT)
    fig.text(fx(cx + off), fy(y1 + 34), "Position 1", ha="right", va="center",
             fontsize=9, color=TXT)
    fig.text(fx(cx + off + 4), fy(y1 + 35), sub, ha="left", va="center",
             fontsize=6.7, color=TXT)


def label_box(x0, x1, y0, y1, text):
    fig.add_artist(Rectangle((fx(x0), fy(y1)), (x1 - x0) / W, (y1 - y0) / H,
                             transform=fig.transFigure, facecolor="white",
                             edgecolor="black", lw=1.8, zorder=3))
    fig.text(fx((x0 + x1) / 2), fy((y0 + y1) / 2 + 1), text, ha="center", va="center",
             fontsize=21, fontweight="bold", color="black", zorder=4)


def fig_legend(cx, cy, handles, labels):
    leg = fig.legend(handles, labels, loc="center", bbox_to_anchor=(fx(cx), fy(cy)),
                     ncol=len(handles), fontsize=6.5, frameon=True, fancybox=False,
                     edgecolor="#7a7a7a", facecolor="white", framealpha=1,
                     handlelength=2.0, handletextpad=0.3, columnspacing=1.0,
                     borderpad=0.35)
    leg.get_frame().set_linewidth(0.8)
    for t in leg.get_texts():
        t.set_color("#333333")


def square(c):
    return Line2D([], [], marker="s", ls="", color=c, markersize=4)


def line_handle(c):
    return Line2D([], [], color=c, lw=1.0)


def style_common(ax):
    ax.set_facecolor("white")
    ax.grid(False)
    ax.yaxis.grid(True, which="major", color="#5a5a5a", lw=1.2)
    ax.set_axisbelow(True)
    ax.spines["left"].set_color("#555555")
    ax.spines["bottom"].set_color("#555555")
    ax.spines["top"].set_color("#9a9a9a")
    ax.spines["right"].set_color("#b5b5b5")
    for s in ax.spines.values():
        s.set_linewidth(0.9)
    ax.tick_params(axis="both", which="major", labelsize=7, labelcolor="#333333",
                   length=3, width=0.6, color="#555555", pad=2, direction="out",
                   left=True, bottom=True)
    ax.tick_params(axis="y", which="minor", length=2, width=0.5, color="#777777",
                   left=True)
    ax.set_xlabel("")
    ax.set_ylabel("")


def bar_axes(ax):
    ax.set_xlim(-0.5, len(BANDS) - 0.5)
    ax.set_ylim(0, 50)
    ax.yaxis.set_major_locator(MultipleLocator(10))
    ax.yaxis.set_minor_locator(MultipleLocator(2))
    style_common(ax)
    ax.xaxis.set_major_locator(FixedLocator(range(len(BANDS))))
    ax.set_xticklabels(BANDS, rotation=45, ha="right", rotation_mode="anchor",
                       fontsize=7, color="#333333")
    ax.xaxis.set_minor_locator(FixedLocator(np.arange(-0.5, len(BANDS), 1.0)))
    ax.tick_params(axis="x", which="major", length=0, pad=5)
    ax.tick_params(axis="x", which="minor", length=3, width=0.5, color="#555555",
                   bottom=True)


def line_axes(ax, xmax):
    ax.set_xlim(0, xmax)
    ax.set_ylim(0, 40)
    ax.yaxis.set_major_locator(MultipleLocator(5))
    ax.yaxis.set_minor_locator(MultipleLocator(1))
    ax.xaxis.set_major_locator(MultipleLocator(100))
    style_common(ax)


def spectrum(ax, pts, color, lw=0.75):
    f, lev = zip(*pts)
    sns.lineplot(x=list(f), y=list(lev), ax=ax, color=color, lw=lw,
                 estimator=None, sort=False, legend=False)


def peaks(ax, pts, colors):
    f, lev = zip(*pts)
    for xi, yi, c in zip(f, lev, colors):
        sns.scatterplot(x=[xi], y=[yi], ax=ax, color=c, s=14, edgecolor="none",
                        zorder=6, legend=False)


def band_frame(values, name):
    return pd.DataFrame({"band": BANDS, "level": values, "series": name}).dropna()


# ================================================================ row 1: 1/3 octave bars
# Day
ax = add_axes_px(51, 616, 92, 334)
sns.barplot(data=band_frame(P1D_TOP, "cap"), x="band", y="level", order=BANDS,
            color=CAP_GREY, saturation=1, width=0.43, edgecolor="#4a4a4a",
            linewidth=0.5, errorbar=None, ax=ax)
sns.barplot(data=band_frame(P1D, "P1D"), x="band", y="level", order=BANDS,
            color=PURPLE, saturation=1, width=0.43, edgecolor="#4a4a4a",
            linewidth=0.5, errorbar=None, ax=ax)
bar_axes(ax)

# Evening
ax = add_axes_px(676, 1241, 92, 334)
eve = pd.concat([band_frame(P1E, "P1E"), band_frame(P1E_CON, "P1E (CON)")])
sns.barplot(data=eve, x="band", y="level", hue="series", order=BANDS,
            hue_order=["P1E", "P1E (CON)"], palette=[PURPLE, GREEN], saturation=1,
            width=0.68, dodge=True, edgecolor="#4a4a4a", linewidth=0.5,
            errorbar=None, legend=False, ax=ax)
bar_axes(ax)

# Night
ax = add_axes_px(1302, 1866, 90, 333)
night = pd.concat([band_frame(P1N_CON, "P1N (CON)"), band_frame(P1N, "P1 N")])
sns.barplot(data=night, x="band", y="level", hue="series", order=BANDS,
            hue_order=["P1N (CON)", "P1 N"], palette=[GREEN, ORANGE], saturation=1,
            width=0.62, dodge=True, edgecolor="#4a4a4a", linewidth=0.5,
            errorbar=None, legend=False, ax=ax)
bar_axes(ax)

# ================================================================ row 2: narrow band to 600 Hz
ax = add_axes_px(49, 609, 511, 746)
spectrum(ax, DAY_NB600, LINE_GREY)
peaks(ax, DAY_PEAKS_600, ["#1a1a1a", "#1a1a1a"])
line_axes(ax, 600)
ax.text(88, 16.4, "80 Hz", fontsize=6, color=TXT, ha="left", va="center")
ax.text(168, 12.8, "160 Hz", fontsize=6, color=TXT, ha="left", va="center")

ax = add_axes_px(674, 1234, 510, 746)
spectrum(ax, EVE_NB600, LINE_P1E)
spectrum(ax, EVE_CON_NB600, TEAL)
peaks(ax, EVE_PEAKS_600, ["#7a1030", "#7a1030"])
line_axes(ax, 600)
ax.text(89, 13.4, "80 Hz", fontsize=6, color=TXT, ha="left", va="center")
ax.text(168, 6.4, "160 Hz", fontsize=6, color=TXT, ha="left", va="center")

ax = add_axes_px(1300, 1863, 510, 747)
spectrum(ax, NIGHT_CON_NB600, "#9a9a9a")
spectrum(ax, NIGHT_NB600, LINE_P1N_MID)
line_axes(ax, 600)

# ================================================================ row 3: narrow band to 1200 Hz
ax = add_axes_px(49, 606, 893, 1128)
spectrum(ax, DAY_NB1200, LINE_GREY)
peaks(ax, DAY_PEAKS_1200, ["#1a1a1a", "#1a1a1a"])
line_axes(ax, 1200)
ax.text(47, 16.1, "80 Hz", fontsize=6, color=TXT, ha="center", va="center")
ax.text(148, 13.2, "160 Hz", fontsize=6, color=TXT, ha="center", va="center")

ax = add_axes_px(674, 1232, 893, 1128)
spectrum(ax, EVE_CON_NB1200, TEAL)
spectrum(ax, EVE_NB1200, LINE_P1E)
peaks(ax, EVE_PEAKS_1200, ["#1a1a1a", "#c0143c"])
line_axes(ax, 1200)
ax.text(97, 13.5, "80 Hz", fontsize=6, color=TXT, ha="left", va="center")
ax.text(180, 7.7, "160 Hz", fontsize=6, color=TXT, ha="center", va="center")

ax = add_axes_px(1300, 1860, 894, 1129)
spectrum(ax, NIGHT_NB1200, LINE_P1N)
spectrum(ax, NIGHT_CON_NB1200, TEAL)
line_axes(ax, 1200)

# ================================================================ panel texts
centres = [317, 942, 1568]
for i, cx in enumerate(centres):
    titles(cx, 23 if i < 2 else 21, "(1/3 octave band)", -12)
    titles(cx, 446, "(Narrow band to 600 Hz)", -27)
    titles(cx, 829, "(Narrow band to 1200 Hz)", -31)

ylab_x = [25, 650, 1275]
for i, xl in enumerate(ylab_x):
    fig.text(fx(xl), fy(213), "Sound pressure level (dBA)", rotation=90,
             ha="center", va="center", fontsize=7, color=TXT)
    fig.text(fx(xl - 1), fy(630), "Sound Pressure Level (dBA)", rotation=90,
             ha="center", va="center", fontsize=7, color=TXT)
    fig.text(fx(xl - 1), fy(1012), "Sound Pressure Level (dBA)", rotation=90,
             ha="center", va="center", fontsize=7, color=TXT)
    cx = centres[i]
    fig.text(fx(cx), fy(390), "1/3-Octave band frequency (Hz)", ha="center",
             va="center", fontsize=7, color=TXT)
    fig.text(fx(cx), fy(773), "Frequency (Hz)", ha="center", va="center",
             fontsize=7, color=TXT)
    fig.text(fx(cx), fy(1155), "Frequency (Hz)", ha="center", va="center",
             fontsize=7, color=TXT)

label_box(33, 115, 25, 69, "Day")
label_box(655, 797, 25, 69, "Evening")
label_box(1286, 1388, 25, 69, "Night")

# legends
fig_legend(316, 412, [square(CAP_GREY)], ["P1D"])
fig_legend(941, 412, [square(PURPLE), square(GREEN)], ["P1E", "P1E (CON)"])
fig_legend(1568, 411, [square(GREEN), square(ORANGE)], ["P1N (CON)", "P1 N"])
fig_legend(942, 794, [line_handle(LINE_P1E), line_handle(TEAL)], ["P1E", "P1E (CON)"])
fig_legend(1568, 794, [line_handle("#9a9a9a"), line_handle(LINE_P1N_MID)], ["P1N (CON)", "P1N"])
fig_legend(942, 1176, [line_handle(LINE_P1E), line_handle(TEAL)], ["P1E", "P1E (CON)"])
fig_legend(1569, 1178, [line_handle(TEAL), line_handle(LINE_P1N)], ["P1N (CON)", "P1N"])

fig.savefig("out.png", dpi=100, facecolor="white")
